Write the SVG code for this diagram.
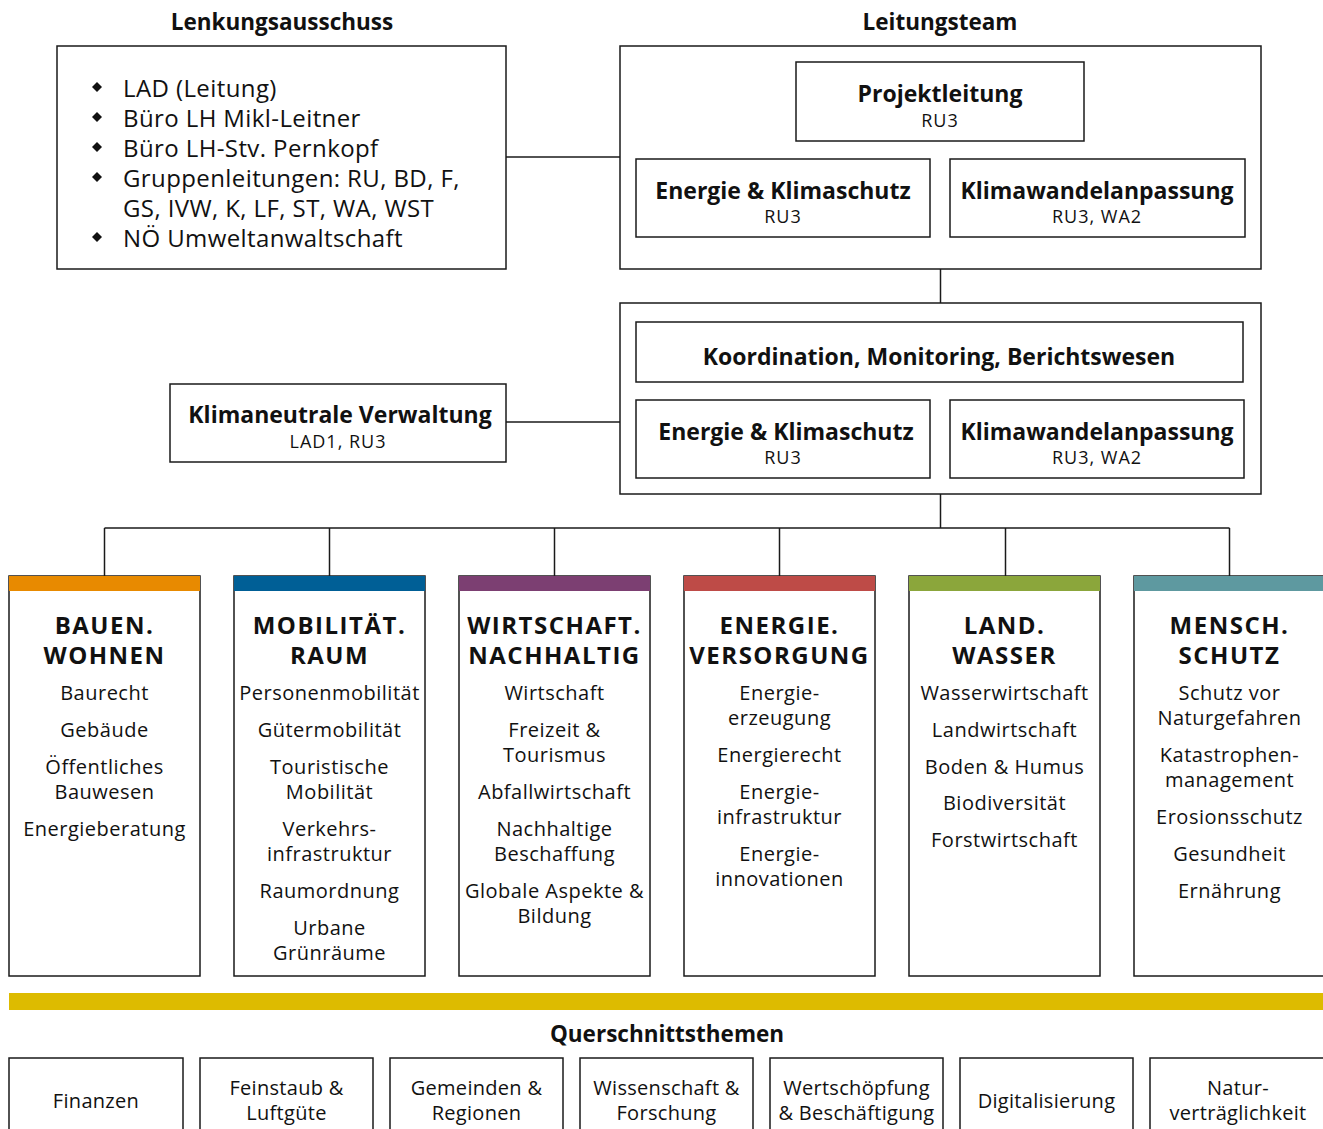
<svg xmlns="http://www.w3.org/2000/svg" width="1323" height="1129" viewBox="0 0 1323 1129">
<style>
text{font-family:"Open Sans","Noto Sans",sans-serif;fill:#111;text-anchor:middle;dominant-baseline:central}
.h{font-weight:700;font-size:22.5px}
.t{font-weight:700;font-size:23px}
.s{font-size:18px;letter-spacing:1px}
.b{font-size:24px;letter-spacing:0.4px;text-anchor:start}
.ct{font-weight:700;font-size:24px;letter-spacing:1.5px}
.it{font-size:20px;letter-spacing:0.5px}
.q{font-size:20px;letter-spacing:0.3px}
.box{fill:#fff;stroke:#1a1a1a;stroke-width:1.5}
.ln{stroke:#1a1a1a;stroke-width:1.5;fill:none}
</style>
<defs>
<path id="dia" d="M0,-5 L5,0 L0,5 L-5,0 Z" fill="#111"/>
</defs>
<rect width="1323" height="1129" fill="#fff"/>

<g id="connectors">
<line class="ln" x1="506" y1="157" x2="620" y2="157"/>
<line class="ln" x1="940.5" y1="269" x2="940.5" y2="303"/>
<line class="ln" x1="506" y1="422" x2="620" y2="422"/>
<line class="ln" x1="940.5" y1="494" x2="940.5" y2="528"/>
<line class="ln" x1="104.5" y1="528" x2="1229.5" y2="528"/>
<line class="ln" x1="104.5" y1="528" x2="104.5" y2="576"/>
<line class="ln" x1="329.5" y1="528" x2="329.5" y2="576"/>
<line class="ln" x1="554.5" y1="528" x2="554.5" y2="576"/>
<line class="ln" x1="779.5" y1="528" x2="779.5" y2="576"/>
<line class="ln" x1="1005.5" y1="528" x2="1005.5" y2="576"/>
<line class="ln" x1="1229.5" y1="528" x2="1229.5" y2="576"/>
</g>

<g id="lenkungsausschuss">
<text class="h" x="282" y="21">Lenkungsausschuss</text>
<rect class="box" x="57" y="46" width="449" height="223"/>
<use href="#dia" x="97" y="87"/>
<use href="#dia" x="97" y="117"/>
<use href="#dia" x="97" y="147"/>
<use href="#dia" x="97" y="177"/>
<use href="#dia" x="97" y="237"/>
<text class="b" x="123" y="87">LAD (Leitung)</text>
<text class="b" x="123" y="117">Büro LH Mikl-Leitner</text>
<text class="b" x="123" y="147">Büro LH-Stv. Pernkopf</text>
<text class="b" x="123" y="177">Gruppenleitungen: RU, BD, F,</text>
<text class="b" x="123" y="207">GS, IVW, K, LF, ST, WA, WST</text>
<text class="b" x="123" y="237">NÖ Umweltanwaltschaft</text>
</g>

<g id="leitungsteam">
<text class="h" x="940" y="21">Leitungsteam</text>
<rect class="box" x="620" y="46" width="641" height="223"/>
</g>
<g id="projektleitung">
<rect class="box" x="796" y="62" width="288" height="79"/>
<text class="t" x="940" y="93">Projektleitung</text>
<text class="s" x="940" y="120">RU3</text>
</g>
<g id="lt-energie">
<rect class="box" x="636" y="159" width="294" height="78"/>
<text class="t" x="783" y="190">Energie &amp; Klimaschutz</text>
<text class="s" x="783" y="216">RU3</text>
</g>
<g id="lt-klima">
<rect class="box" x="950" y="159" width="295" height="78"/>
<text class="t" x="1097" y="190">Klimawandelanpassung</text>
<text class="s" x="1097" y="216">RU3, WA2</text>
</g>

<g id="koordination-gruppe">
<rect class="box" x="620" y="303" width="641" height="191"/>
</g>
<g id="koordination">
<rect class="box" x="636" y="322" width="607" height="60"/>
<text class="t" x="939" y="356">Koordination, Monitoring, Berichtswesen</text>
</g>
<g id="ko-energie">
<rect class="box" x="636" y="400" width="294" height="78"/>
<text class="t" x="786" y="431">Energie &amp; Klimaschutz</text>
<text class="s" x="783" y="457">RU3</text>
</g>
<g id="ko-klima">
<rect class="box" x="950" y="400" width="294" height="78"/>
<text class="t" x="1097" y="431">Klimawandelanpassung</text>
<text class="s" x="1097" y="457">RU3, WA2</text>
</g>

<g id="klimaneutrale-verwaltung">
<rect class="box" x="170" y="384" width="336" height="78"/>
<text class="t" x="340" y="414">Klimaneutrale Verwaltung</text>
<text class="s" x="338" y="441">LAD1, RU3</text>
</g>

<g id="col-bauen">
<rect class="box" x="9" y="576" width="191" height="400"/>
<rect x="9" y="576" width="191" height="15" fill="#E88A00"/>
<text class="ct" x="104.5" y="624">BAUEN.</text>
<text class="ct" x="104.5" y="654">WOHNEN</text>
<text class="it" x="104.5" y="692">Baurecht</text>
<text class="it" x="104.5" y="729">Gebäude</text>
<text class="it" x="104.5" y="766">Öffentliches</text>
<text class="it" x="104.5" y="791">Bauwesen</text>
<text class="it" x="104.5" y="828">Energieberatung</text>
</g>
<g id="col-mobilitaet">
<rect class="box" x="234" y="576" width="191" height="400"/>
<rect x="234" y="576" width="191" height="15" fill="#005F96"/>
<text class="ct" x="329.5" y="624">MOBILITÄT.</text>
<text class="ct" x="329.5" y="654">RAUM</text>
<text class="it" x="329.5" y="692">Personenmobilität</text>
<text class="it" x="329.5" y="729">Gütermobilität</text>
<text class="it" x="329.5" y="766">Touristische</text>
<text class="it" x="329.5" y="791">Mobilität</text>
<text class="it" x="329.5" y="828">Verkehrs-</text>
<text class="it" x="329.5" y="853">infrastruktur</text>
<text class="it" x="329.5" y="890">Raumordnung</text>
<text class="it" x="329.5" y="927">Urbane</text>
<text class="it" x="329.5" y="952">Grünräume</text>
</g>
<g id="col-wirtschaft">
<rect class="box" x="459" y="576" width="191" height="400"/>
<rect x="459" y="576" width="191" height="15" fill="#7C3F72"/>
<text class="ct" x="554.5" y="624">WIRTSCHAFT.</text>
<text class="ct" x="554.5" y="654">NACHHALTIG</text>
<text class="it" x="554.5" y="692">Wirtschaft</text>
<text class="it" x="554.5" y="729">Freizeit &amp;</text>
<text class="it" x="554.5" y="754">Tourismus</text>
<text class="it" x="554.5" y="791">Abfallwirtschaft</text>
<text class="it" x="554.5" y="828">Nachhaltige</text>
<text class="it" x="554.5" y="853">Beschaffung</text>
<text class="it" x="554.5" y="890">Globale Aspekte &amp;</text>
<text class="it" x="554.5" y="915">Bildung</text>
</g>
<g id="col-energie">
<rect class="box" x="684" y="576" width="191" height="400"/>
<rect x="684" y="576" width="191" height="15" fill="#BE4B47"/>
<text class="ct" x="779.5" y="624">ENERGIE.</text>
<text class="ct" x="779.5" y="654">VERSORGUNG</text>
<text class="it" x="779.5" y="692">Energie-</text>
<text class="it" x="779.5" y="717">erzeugung</text>
<text class="it" x="779.5" y="754">Energierecht</text>
<text class="it" x="779.5" y="791">Energie-</text>
<text class="it" x="779.5" y="816">infrastruktur</text>
<text class="it" x="779.5" y="853">Energie-</text>
<text class="it" x="779.5" y="878">innovationen</text>
</g>
<g id="col-land">
<rect class="box" x="909" y="576" width="191" height="400"/>
<rect x="909" y="576" width="191" height="15" fill="#8BA63B"/>
<text class="ct" x="1004.5" y="624">LAND.</text>
<text class="ct" x="1004.5" y="654">WASSER</text>
<text class="it" x="1004.5" y="692">Wasserwirtschaft</text>
<text class="it" x="1004.5" y="729">Landwirtschaft</text>
<text class="it" x="1004.5" y="766">Boden &amp; Humus</text>
<text class="it" x="1004.5" y="802">Biodiversität</text>
<text class="it" x="1004.5" y="839">Forstwirtschaft</text>
</g>
<g id="col-mensch">
<rect class="box" x="1134" y="576" width="192" height="400"/>
<rect x="1134" y="576" width="192" height="15" fill="#5E99A0"/>
<text class="ct" x="1229.5" y="624">MENSCH.</text>
<text class="ct" x="1229.5" y="654">SCHUTZ</text>
<text class="it" x="1229.5" y="692">Schutz vor</text>
<text class="it" x="1229.5" y="717">Naturgefahren</text>
<text class="it" x="1229.5" y="754">Katastrophen-</text>
<text class="it" x="1229.5" y="779">management</text>
<text class="it" x="1229.5" y="816">Erosionsschutz</text>
<text class="it" x="1229.5" y="853">Gesundheit</text>
<text class="it" x="1229.5" y="890">Ernährung</text>
</g>

<g id="querschnitt">
<rect x="9" y="993" width="1314" height="17" fill="#DDBB00"/>
<text class="h" x="667" y="1033">Querschnittsthemen</text>
</g>
<g id="q-finanzen">
<rect class="box" x="9" y="1058" width="174" height="80"/>
<text class="q" x="96" y="1100">Finanzen</text>
</g>
<g id="q-feinstaub">
<rect class="box" x="200" y="1058" width="173" height="80"/>
<text class="q" x="286.5" y="1087">Feinstaub &amp;</text>
<text class="q" x="286.5" y="1112">Luftgüte</text>
</g>
<g id="q-gemeinden">
<rect class="box" x="390" y="1058" width="173" height="80"/>
<text class="q" x="476.5" y="1087">Gemeinden &amp;</text>
<text class="q" x="476.5" y="1112">Regionen</text>
</g>
<g id="q-wissenschaft">
<rect class="box" x="580" y="1058" width="173" height="80"/>
<text class="q" x="666.5" y="1087">Wissenschaft &amp;</text>
<text class="q" x="666.5" y="1112">Forschung</text>
</g>
<g id="q-wertschoepfung">
<rect class="box" x="770" y="1058" width="173" height="80"/>
<text class="q" x="856.5" y="1087">Wertschöpfung</text>
<text class="q" x="856.5" y="1112">&amp; Beschäftigung</text>
</g>
<g id="q-digitalisierung">
<rect class="box" x="960" y="1058" width="173" height="80"/>
<text class="q" x="1046.5" y="1100">Digitalisierung</text>
</g>
<g id="q-natur">
<rect class="box" x="1150" y="1058" width="174" height="80"/>
<text class="q" x="1238" y="1087">Natur-</text>
<text class="q" x="1238" y="1112">verträglichkeit</text>
</g>
</svg>
